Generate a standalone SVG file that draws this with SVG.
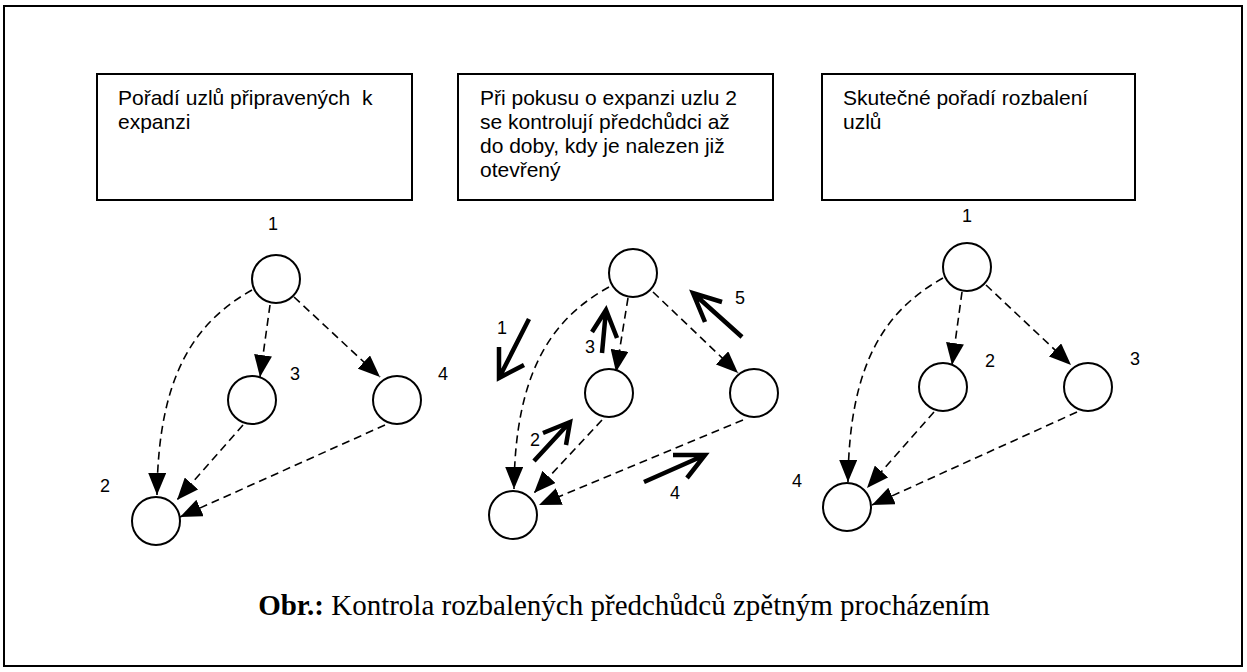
<svg xmlns="http://www.w3.org/2000/svg" width="1247" height="672" viewBox="0 0 1247 672">
  <style>
    .frame { fill: none; stroke: #000; stroke-width: 2; }
    .box { fill: #fff; stroke: #000; stroke-width: 2; }
    .node { fill: #fff; stroke: #000; stroke-width: 2; }
    .btxt { font-family: "Liberation Sans", Arial, sans-serif; font-size: 21px; fill: #000; white-space: pre; }
    .lbl { font-family: "Liberation Sans", Arial, sans-serif; font-size: 18px; fill: #000; }
    .edge { fill: none; stroke: #000; stroke-width: 1.6; stroke-dasharray: 8 5; marker-end: url(#head); }
    .trace { fill: none; stroke: #000; stroke-width: 4.5; stroke-linecap: butt; stroke-linejoin: miter; }
    .cap { font-family: "Liberation Serif", "Times New Roman", serif; font-size: 29px; fill: #000; }
  </style>
  <defs>
    <marker id="head" markerUnits="userSpaceOnUse" viewBox="0 0 22 18" refX="22" refY="9" markerWidth="22" markerHeight="18" orient="auto">
      <path d="M0,0 L22,9 L0,18 z" fill="#000"/>
    </marker>
  </defs>

  <rect class="frame" x="4" y="6" width="1238" height="660"/>

  <!-- description boxes -->
  <g id="box-ready">
    <rect class="box" x="97" y="74" width="315" height="126"/>
    <text class="btxt" x="118" y="105">Pořadí uzlů připravených  k</text>
    <text class="btxt" x="118" y="129">expanzi</text>
  </g>
  <g id="box-check">
    <rect class="box" x="458" y="74" width="315" height="126"/>
    <text class="btxt" x="480" y="105">Při pokusu o expanzi uzlu 2</text>
    <text class="btxt" x="480" y="129">se kontrolují předchůdci až</text>
    <text class="btxt" x="480" y="153">do doby, kdy je nalezen již</text>
    <text class="btxt" x="480" y="177">otevřený</text>
  </g>
  <g id="box-actual">
    <rect class="box" x="822" y="74" width="313" height="126"/>
    <text class="btxt" x="843" y="105">Skutečné pořadí rozbalení</text>
    <text class="btxt" x="843" y="129">uzlů</text>
  </g>

  <!-- connectors -->
  <g id="connectors">
    <!-- graph A -->
    <path class="edge" d="M252,290 C195,322 158,375 157,495"/>
    <path class="edge" d="M270,305 L260,377"/>
    <path class="edge" d="M294,297 L380,377"/>
    <path class="edge" d="M243,425 L177,500"/>
    <path class="edge" d="M385,425 L180,517"/>
    <!-- graph B -->
    <path class="edge" d="M609,287 C553,318 515,370 514,489"/>
    <path class="edge" d="M628,298 L616,372"/>
    <path class="edge" d="M653,292 L738,373"/>
    <path class="edge" d="M602,420 L534,493"/>
    <path class="edge" d="M743,420 L539,505"/>
    <!-- graph C -->
    <path class="edge" d="M943,278 C886,310 849,362 848,482"/>
    <path class="edge" d="M962,292 L952,365"/>
    <path class="edge" d="M986,285 L1071,365"/>
    <path class="edge" d="M934,412 L867,488"/>
    <path class="edge" d="M1077,412 L872,505"/>
    <!-- traversal arrows in graph B -->
    <path class="trace" d="M529,319 L499,378 M499,347 L499,378 L524,365"/>
    <path class="trace" d="M534,461 L570,422 M543,433 L570,422 L566,445"/>
    <path class="trace" d="M602,353 L606,310 M592,332 L606,310 L617,338"/>
    <path class="trace" d="M644,482 L705,455 M673,455 L705,455 L687,478"/>
    <path class="trace" d="M742,337 L693,293 M722,302 L693,293 L705,322"/>
  </g>

  <!-- graph A nodes -->
  <g id="a1"><circle class="node" cx="276" cy="279" r="24"/><text class="lbl" x="268" y="230">1</text></g>
  <g id="a3"><circle class="node" cx="252" cy="400" r="24"/><text class="lbl" x="290" y="380">3</text></g>
  <g id="a4"><circle class="node" cx="397" cy="400" r="24"/><text class="lbl" x="438" y="380">4</text></g>
  <g id="a2"><circle class="node" cx="156" cy="521" r="24"/><text class="lbl" x="100" y="492">2</text></g>

  <!-- graph B nodes -->
  <g id="b1"><circle class="node" cx="633" cy="273" r="24"/></g>
  <g id="b3"><circle class="node" cx="609" cy="393" r="24"/></g>
  <g id="b4"><circle class="node" cx="754" cy="393" r="24"/></g>
  <g id="b2"><circle class="node" cx="513" cy="515" r="24"/></g>
  <g id="b-steps">
    <text class="lbl" x="497" y="334">1</text>
    <text class="lbl" x="530" y="446">2</text>
    <text class="lbl" x="585" y="353">3</text>
    <text class="lbl" x="670" y="499">4</text>
    <text class="lbl" x="735" y="304">5</text>
  </g>

  <!-- graph C nodes -->
  <g id="c1"><circle class="node" cx="967" cy="267" r="24"/><text class="lbl" x="962" y="222">1</text></g>
  <g id="c2"><circle class="node" cx="943" cy="387" r="24"/><text class="lbl" x="985" y="367">2</text></g>
  <g id="c3"><circle class="node" cx="1088" cy="387" r="24"/><text class="lbl" x="1130" y="365">3</text></g>
  <g id="c4"><circle class="node" cx="847" cy="507" r="24"/><text class="lbl" x="792" y="487">4</text></g>

  <text class="cap" x="624" y="615" text-anchor="middle"><tspan font-weight="bold">Obr.:</tspan> Kontrola rozbalených předchůdců zpětným procházením</text>
</svg>
